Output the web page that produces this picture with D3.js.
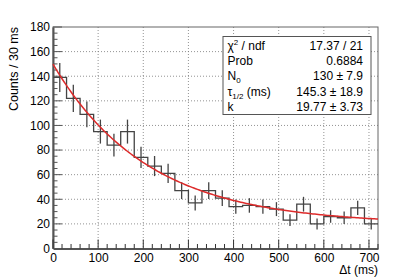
<!DOCTYPE html>
<html>
<head>
<meta charset="utf-8">
<title>Decay fit</title>
<script src="https://d3js.org/d3.v7.min.js"></script>
<style>
  body { margin: 0; background: #fff; }
  svg { font-family: "Liberation Sans", Arial, sans-serif; }
</style>
</head>
<body>
<svg id="chart" width="407" height="278"></svg>
<script>
// histogram: 30 ms bins from 0 to 720
const binEdges = d3.range(0, 721, 30)
const counts = [139, 122, 109, 95, 84, 95, 74, 67, 61, 47, 37, 47,
                41, 34, 35, 34, 32, 23, 36, 20, 26, 25, 33, 20]

// fit N0 * 2^(-t / tau) + k
const fitNames = ["N0", "tau", "k"]
const fitValues = [130, 145.3, 19.77]

const statLabels = ["chi2", "Prob", "N0", "tau", "k"]
const statValues = ["17.37 / 21", "0.6884", "130 \u00b1 7.9", "145.3 \u00b1 18.9", "19.77 \u00b1 3.73"]

const yTicks = d3.range(0, 181, 20)
const xTicks = d3.range(0, 701, 100)

const svg = d3.select("#chart")
const margin = { top: 27, right: 29, bottom: 29.5, left: 53 }
const width = +svg.attr("width")
const height = +svg.attr("height")
const innerWidth = width - margin.left - margin.right
const innerHeight = height - margin.top - margin.bottom

const x = d3.scaleLinear().domain([0, 720]).range([0, innerWidth])
const y = d3.scaleLinear().domain([0, 180]).range([innerHeight, 0])

const g = svg.append("g")
    .attr("transform", `translate(${margin.left},${margin.top})`)

// grid
g.append("g").selectAll("line")
    .data(xTicks.filter(d => d > 0))
    .enter().append("line")
    .attr("x1", d => x(d)).attr("x2", d => x(d))
    .attr("y1", 0).attr("y2", innerHeight)
    .attr("stroke", "#777").attr("stroke-width", 0.8)
    .attr("stroke-dasharray", "1,2")
g.append("g").selectAll("line")
    .data(yTicks.filter(d => d > 0 && d < 180))
    .enter().append("line")
    .attr("y1", d => y(d)).attr("y2", d => y(d))
    .attr("x1", 0).attr("x2", innerWidth)
    .attr("stroke", "#777").attr("stroke-width", 0.8)
    .attr("stroke-dasharray", "1,2")

// frame
g.append("rect")
    .attr("x", 0).attr("y", 0)
    .attr("width", innerWidth).attr("height", innerHeight)
    .attr("fill", "none").attr("stroke", "#666").attr("stroke-width", 1)

// axes, ticks pointing inside
const yAxis = d3.axisLeft(y).tickValues(yTicks).tickSize(0).tickPadding(3)
const yG = g.append("g").call(yAxis)
const xAxis = d3.axisBottom(x).tickValues(xTicks).tickSize(0).tickPadding(5)
const xG = g.append("g").attr("transform", `translate(0,${innerHeight})`).call(xAxis)
for (const ax of [xG, yG]) {
    ax.select(".domain").attr("stroke", "#555").attr("stroke-width", 2)
    ax.selectAll("text").attr("font-size", 12).attr("fill", "#000")
        .attr("font-family", "Liberation Sans, Arial, sans-serif")
}

const yMinor = d3.range(0, 181, 5)
g.append("g").selectAll("line")
    .data(yMinor)
    .enter().append("line")
    .attr("x1", 0).attr("x2", d => d % 20 === 0 ? 9 : 4.5)
    .attr("y1", d => y(d)).attr("y2", d => y(d))
    .attr("stroke", "#555").attr("stroke-width", 1)
const xMinor = d3.range(0, 721, 20)
g.append("g").selectAll("line")
    .data(xMinor)
    .enter().append("line")
    .attr("y1", innerHeight).attr("y2", d => innerHeight - (d % 100 === 0 ? 9 : 4.5))
    .attr("x1", d => x(d)).attr("x2", d => x(d))
    .attr("stroke", "#333").attr("stroke-width", 1)

// histogram steps
const stepPts = [[0, 0]]
counts.forEach((c, i) => {
    stepPts.push([binEdges[i], c])
    stepPts.push([binEdges[i + 1], c])
})
g.append("path")
    .attr("d", d3.line().x(d => x(d[0])).y(d => y(d[1]))(stepPts.slice(1)))
    .attr("fill", "none").attr("stroke", "#444").attr("stroke-width", 1.3)

// error bars
g.append("g").selectAll("line")
    .data(counts)
    .enter().append("line")
    .attr("x1", (d, i) => x(binEdges[i] + 15)).attr("x2", (d, i) => x(binEdges[i] + 15))
    .attr("y1", d => y(d - Math.sqrt(d))).attr("y2", d => y(d + Math.sqrt(d)))
    .attr("stroke", "#444").attr("stroke-width", 1.3)

// fit curve
const [N0, tau, k] = fitValues
const ts = d3.range(0, 720.1, 4)
g.append("path")
    .attr("d", d3.line().x(t => x(t)).y(t => y(N0 * Math.pow(2, -t / tau) + k))(ts))
    .attr("fill", "none").attr("stroke", "#dd2b2b").attr("stroke-width", 1.5)

// axis titles
svg.append("text")
    .attr("transform", `translate(18,${margin.top}) rotate(-90)`)
    .attr("text-anchor", "end").attr("font-size", 12.5)
    .text("Counts / 30 ms")
svg.append("text")
    .attr("x", margin.left + innerWidth).attr("y", 274)
    .attr("text-anchor", "end").attr("font-size", 12)
    .text("\u0394t (ms)")

// stats box
const box = svg.append("g").attr("transform", "translate(223,36.5)")
box.append("rect")
    .attr("width", 148).attr("height", 78)
    .attr("fill", "#fff").attr("stroke", "#555").attr("stroke-width", 1)
const rowH = 15.4
statLabels.forEach((lab, i) => {
    const yb = 13 + i * rowH
    const t = box.append("text").attr("x", 4.5).attr("y", yb).attr("font-size", 12)
    if (lab === "chi2") {
        t.append("tspan").text("\u03c7")
        t.append("tspan").attr("dy", -5).attr("font-size", 8).text("2")
        t.append("tspan").attr("dy", 5).text(" / ndf")
    } else if (lab === "N0") {
        t.append("tspan").text("N")
        t.append("tspan").attr("dy", 3).attr("font-size", 8).text("0")
    } else if (lab === "tau") {
        t.append("tspan").text("\u03c4")
        t.append("tspan").attr("dy", 3).attr("font-size", 8).text("1/2")
        t.append("tspan").attr("dy", -3).text(" (ms)")
    } else {
        t.text(lab)
    }
    box.append("text").attr("x", 140).attr("y", yb)
        .attr("text-anchor", "end").attr("font-size", 12)
        .text(statValues[i])
})
</script>
</body>
</html>
